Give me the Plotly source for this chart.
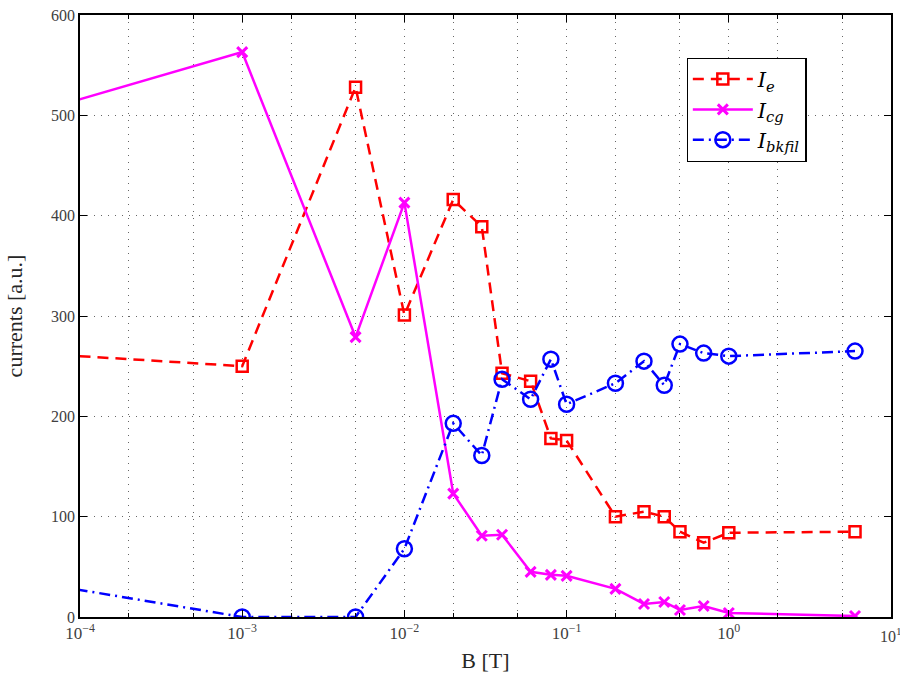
import plotly.graph_objects as go

# B field values [T]
B = [1e-5, 1e-3, 5e-3, 1e-2, 2e-2, 3e-2, 4e-2, 6e-2, 8e-2, 1e-1,
     2e-1, 3e-1, 4e-1, 5e-1, 7e-1, 1.0, 6.0]

I_e = [270, 250, 528, 301, 416, 389, 243, 235, 178, 176,
       100, 105, 100, 85, 74, 84, 85]
I_cg = [469, 563, 279, 413, 123, 81, 82, 45, 42, 41,
        28, 13, 15, 7, 11, 4, 1]
I_bkfil = [54, 0, 0, 68, 193, 161, 237, 217, 257, 212,
           233, 255, 231, 272, 263, 260, 265]

xtick_vals = [1e-4, 1e-3, 1e-2, 1e-1, 1e0, 1e1]
xtick_text = ["10<sup>−4</sup>", "10<sup>−3</sup>", "10<sup>−2</sup>",
              "10<sup>−1</sup>", "10<sup>0</sup>", "10<sup>1</sup>"]
ytick_vals = [0, 100, 200, 300, 400, 500, 600]

FONT = "Liberation Serif"
LEGFONT = "DejaVu Serif"
GRID = "#666666"

fig = go.Figure()
fig.add_trace(go.Scatter(
    x=B, y=I_e, mode="lines+markers",
    name="<i>I<sub>e</sub></i>",
    line=dict(color="#ff0000", width=2.5, dash="11px,7px"),
    marker=dict(symbol="square-open", size=11, color="#ff0000",
                line=dict(width=2.5, color="#ff0000")),
))
fig.add_trace(go.Scatter(
    x=B, y=I_cg, mode="lines+markers",
    name="<i>I<sub>cg</sub></i>",
    line=dict(color="#ff00ff", width=2.5),
    marker=dict(symbol="x-thin", size=10, color="#ff00ff",
                line=dict(width=3, color="#ff00ff")),
))
fig.add_trace(go.Scatter(
    x=B, y=I_bkfil, mode="lines+markers",
    name="<i>I<sub>bkfil</sub></i>",
    line=dict(color="#0000ff", width=2.5, dash="11px,5px,2px,5px"),
    marker=dict(symbol="circle-open", size=15, color="#0000ff",
                line=dict(width=2.5, color="#0000ff")),
))

fig.update_layout(
    width=900, height=677,
    margin=dict(l=80, r=7, t=12, b=60),
    paper_bgcolor="white", plot_bgcolor="white",
    font=dict(family=FONT, color="#262626", size=15),
    legend=dict(
        x=0.748, y=0.929, xanchor="left", yanchor="top",
        bgcolor="white", bordercolor="black", borderwidth=1.2,
        font=dict(family=LEGFONT, size=21, color="black"),
        itemwidth=60, tracegroupgap=0,
    ),
    showlegend=True,
    annotations=[dict(
        text="10<sup>1</sup>", xref="paper", yref="paper", x=1.0, y=0,
        xanchor="center", yanchor="top", yshift=-6, showarrow=False,
        font=dict(family=FONT, size=16, color="#404040"),
    )],
)

fig.update_xaxes(
    type="log", range=[-4, 1],
    tickvals=xtick_vals, ticktext=xtick_text,
    ticks="inside", ticklen=7, tickcolor="black",
    showline=True, linecolor="black", linewidth=1.5, mirror="ticks",
    showgrid=True, gridcolor=GRID, griddash="1px,6px", gridwidth=1,
    minor=dict(ticks="inside", ticklen=4, tickcolor="black",
               showgrid=True, gridcolor=GRID, griddash="1px,6px", gridwidth=1),
    tickfont=dict(family=FONT, size=17, color="#404040"),
    title=dict(text="B [T]", font=dict(family=FONT, size=22, color="#262626"),
               standoff=10),
    zeroline=False,
)
fig.update_yaxes(
    range=[0, 600], tickvals=ytick_vals,
    ticks="inside", ticklen=7, tickcolor="black",
    showline=True, linecolor="black", linewidth=1.5, mirror="ticks",
    showgrid=True, gridcolor=GRID, griddash="1px,6px", gridwidth=1,
    tickfont=dict(family=FONT, size=16, color="#404040"),
    title=dict(text="currents [a.u.]", font=dict(family=FONT, size=22, color="#262626"),
               standoff=22),
    zeroline=False,
)

fig.write_html("out.html")
